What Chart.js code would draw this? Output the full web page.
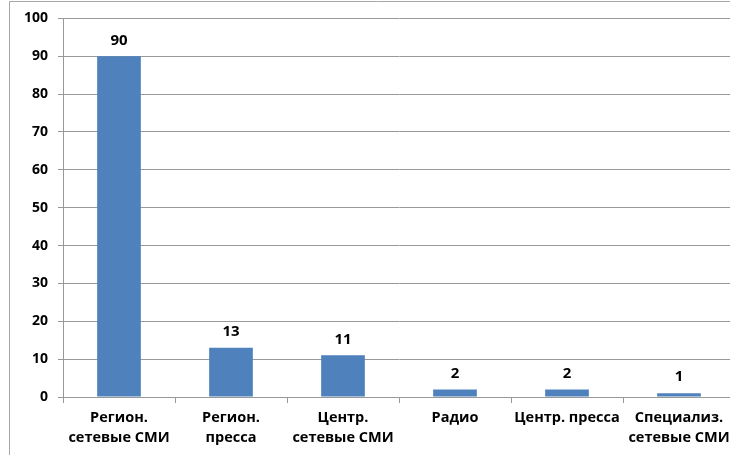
<!DOCTYPE html>
<html>
<head>
<meta charset="utf-8">
<script src="https://cdn.jsdelivr.net/npm/chart.js@4"></script>
<style>
  html, body { margin: 0; padding: 0; background: #fff; overflow: hidden; }
  #wrap { position: relative; width: 745px; height: 455px; }
</style>
</head>
<body>
<div id="wrap"><canvas id="chart"></canvas></div>
<script>
// categories and values
const categories = [
  ['Регион.', 'сетевые СМИ'],
  ['Регион.', 'пресса'],
  ['Центр.', 'сетевые СМИ'],
  ['Радио'],
  ['Центр. пресса'],
  ['Специализ.', 'сетевые СМИ']
];
const values = [90, 13, 11, 2, 2, 1];
const yTicks = [0, 10, 20, 30, 40, 50, 60, 70, 80, 90, 100];

const FONT = '"Open Sans", Lato, sans-serif';

// value labels above each bar
const barLabels = {
  id: 'barLabels',
  afterDatasetsDraw(chart) {
    const ctx = chart.ctx;
    const meta = chart.getDatasetMeta(0);
    ctx.save();
    ctx.font = 'bold 15px ' + FONT;
    ctx.fillStyle = '#000';
    ctx.textAlign = 'center';
    ctx.textBaseline = 'middle';
    meta.data.forEach((bar, i) => {
      ctx.fillText(String(values[i]), bar.x, bar.y - 16);
    });
    ctx.restore();
  }
};

// outer chart frame (only left and top edges are visible in the window)
const frame = {
  id: 'frame',
  beforeDraw(chart) {
    const ctx = chart.ctx;
    ctx.save();
    ctx.strokeStyle = '#a6a6a6';
    ctx.lineWidth = 1;
    ctx.beginPath();
    ctx.moveTo(9.5, chart.height);
    ctx.lineTo(9.5, 1.5);
    ctx.lineTo(chart.width, 1.5);
    ctx.stroke();
    ctx.restore();
  }
};

new Chart(document.getElementById('chart'), {
  type: 'bar',
  data: {
    labels: categories,
    datasets: [{
      data: values,
      backgroundColor: '#4f81bd',
      borderWidth: 0,
      barPercentage: 0.39,
      categoryPercentage: 1
    }]
  },
  options: {
    responsive: true,
    maintainAspectRatio: false,
    animation: false,
    layout: { padding: { left: 0, right: 10, top: 18, bottom: 0 } },
    plugins: { legend: { display: false }, tooltip: { enabled: false } },
    scales: {
      x: {
        grid: { display: true, drawOnChartArea: false, offset: true, tickLength: 6, color: '#999' },
        border: { display: true, color: '#999' },
        ticks: {
          color: '#000',
          font: { family: FONT, size: 14.5, weight: 'bold', lineHeight: 1.38 },
          maxRotation: 0,
          autoSkip: false,
          padding: 5
        },
        afterFit(scale) { scale.height = 58; }
      },
      y: {
        min: 0,
        max: 100,
        afterBuildTicks(scale) { scale.ticks = yTicks.map(v => ({ value: v })); },
        grid: { color: '#999', tickLength: 5 },
        border: { display: true, color: '#999' },
        ticks: {
          color: '#000',
          font: { family: FONT, size: 14, weight: 'bold' },
          padding: 10
        },
        afterFit(scale) { scale.width = 63; }
      }
    }
  },
  plugins: [barLabels, frame]
});
</script>
</body>
</html>
